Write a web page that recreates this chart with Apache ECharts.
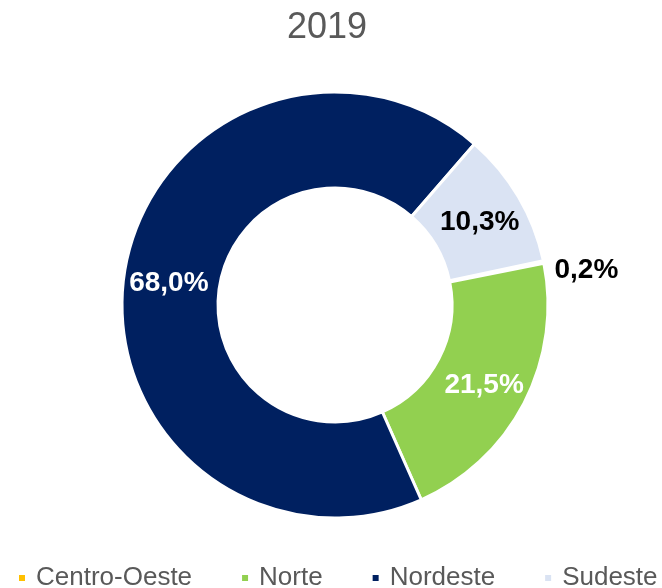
<!DOCTYPE html>
<html>
<head>
<meta charset="utf-8">
<script src="https://cdn.jsdelivr.net/npm/echarts@6/dist/echarts.min.js"></script>
<style>
  html, body { margin: 0; padding: 0; background: #fff; }
  #chart { width: 662px; height: 588px; }
</style>
</head>
<body>
<div id="chart"></div>
<script>
// data (share of total, %)
const chartTitle = '2019';
const regions = ['Centro-Oeste', 'Norte', 'Nordeste', 'Sudeste'];
const shares = [0.2, 21.5, 68.0, 10.3];
const sliceColors = ['#FFC000', '#92D050', '#002060', '#DAE3F3'];
const labelColors = ['#000000', '#ffffff', '#ffffff', '#000000'];

const FONT = 'Liberation Sans, Arial, sans-serif';

const chart = echarts.init(document.getElementById('chart'), null, { renderer: 'canvas' });

const pieData = regions.map((name, i) => {
  const item = {
    name: name,
    value: shares[i],
    itemStyle: { color: sliceColors[i] },
    label: { color: labelColors[i] }
  };
  // tiny slice gets its label outside the ring
  if (i === 0) {
    item.label.position = 'outside';
    item.labelLine = { show: false, length: 6, length2: 0 };
  }
  return item;
});

const option = {
  animation: false,
  backgroundColor: '#ffffff',
  title: {
    text: chartTitle,
    left: 282,
    top: 5,
    textStyle: {
      fontFamily: FONT,
      fontSize: 36,
      fontWeight: 'normal',
      color: '#595959'
    }
  },
  legend: {
    data: regions,
    left: 17,
    top: 565,
    icon: 'rect',
    itemWidth: 8,
    itemHeight: 8,
    itemGap: 48,
    padding: 0,
    textStyle: {
      fontFamily: FONT,
      fontSize: 26,
      color: '#595959',
      padding: [0, 0, 0, 5]
    }
  },
  series: [
    {
      type: 'pie',
      center: [335, 305],
      radius: [117, 213],
      startAngle: 12,
      clockwise: true,
      avoidLabelOverlap: false,
      emphasis: { disabled: true },
      itemStyle: {
        borderColor: '#ffffff',
        borderWidth: 3
      },
      label: {
        show: true,
        position: 'inside',
        fontFamily: FONT,
        fontSize: 28,
        fontWeight: 'bold',
        formatter: p => p.value.toFixed(1).replace('.', ',') + '%'
      },
      labelLayout: p => (p.dataIndex === 0 ? { dy: 9 } : { dy: 3 }),
      data: pieData
    }
  ]
};

chart.setOption(option);
</script>
</body>
</html>
